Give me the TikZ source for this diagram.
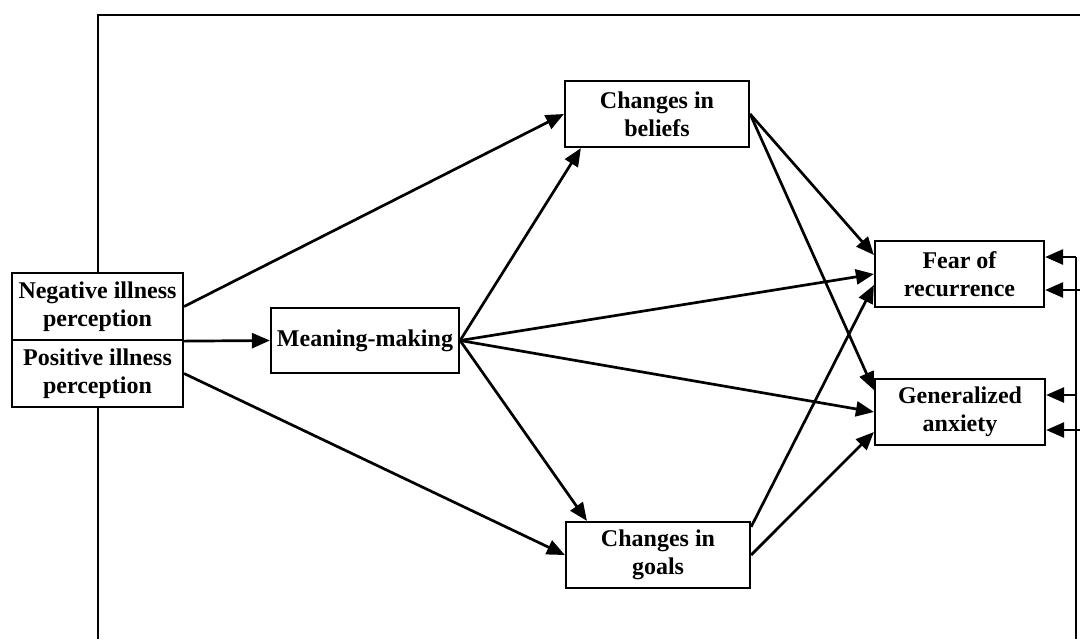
\documentclass[tikz,border=0pt]{standalone}
\usepackage{fontspec}
\setmainfont{Liberation Serif}
\usetikzlibrary{arrows.meta}

\begin{document}
\begin{tikzpicture}[x=0.5pt,y=-0.5pt,
	box/.style={draw,line width=1.1pt,fill=white,align=center,inner sep=0pt,
		font=\fontsize{12}{14}\selectfont\bfseries},
	arr/.style={line width=1.35pt,-{Triangle[length=9pt,width=7.5pt]}}]
		\useasboundingbox (0,0) rectangle (1080,639);
		% frame
		\draw[line width=1.1pt] (1080,15) -- (98,15) -- (98,639);
		\coordinate (rtop) at (1076,257);
		\coordinate (rbot) at (1076,639);
		\coordinate (redge1) at (1080,290);
		\coordinate (redge2) at (1080,430);
		\coordinate (rmid) at (1076,395);
		\draw[line width=1.1pt] (rtop) -- (rbot);
		% nodes
		\node[box,minimum width=85.5pt,minimum height=33.5pt] (neg) at (97.5,306.5) {Negative illness\\perception};
		\node[box,minimum width=85.5pt,minimum height=33.5pt] (pos) at (97.5,373.5) {Positive illness\\perception};
		\node[box,minimum width=94pt,minimum height=32.5pt] (mean) at (365,340.5) {Meaning-making};
		\node[box,minimum width=92pt,minimum height=33pt] (beliefs) at (657,114) {Changes in\\beliefs};
		\node[box,minimum width=92pt,minimum height=33pt] (goals) at (658,555) {Changes in\\goals};
		\node[box,minimum width=84.5pt,minimum height=33pt] (fear) at (959.5,274) {Fear of\\recurrence};
		\node[box,minimum width=85pt,minimum height=33pt] (gen) at (960,412) {Generalized\\anxiety};
		% paths
		\draw[arr] (neg.east) -- (beliefs.west);
		\draw[arr] (pos.east) -- (goals.west);
		\draw[arr] (neg.south east) -- (mean.west);
		\draw[arr] (mean.east) -- ([xshift=8.5pt]beliefs.south west);
		\draw[arr] (mean.east) -- ([xshift=11pt]goals.north west);
		\draw[arr] (mean.east) -- (fear.west);
		\draw[arr] (mean.east) -- (gen.west);
		\draw[arr] (beliefs.east) -- ([yshift=9.5pt]fear.west);
		\draw[arr] (beliefs.east) -- ([yshift=11pt]gen.west);
		\draw[arr] ([yshift=-3pt]goals.north east) -- ([yshift=-5.5pt]fear.west);
		\draw[arr] (goals.east) -- ([yshift=-10pt]gen.west);
		% from the right
		\draw[arr] (rtop) -- ([yshift=8.5pt]fear.east);
		\draw[arr] (redge1) -- ([yshift=-8pt]fear.east);
		\draw[arr] (rmid) -- ([yshift=8.5pt]gen.east);
		\draw[arr] (redge2) -- ([yshift=-9pt]gen.east);
	\end{tikzpicture}
\end{document}
